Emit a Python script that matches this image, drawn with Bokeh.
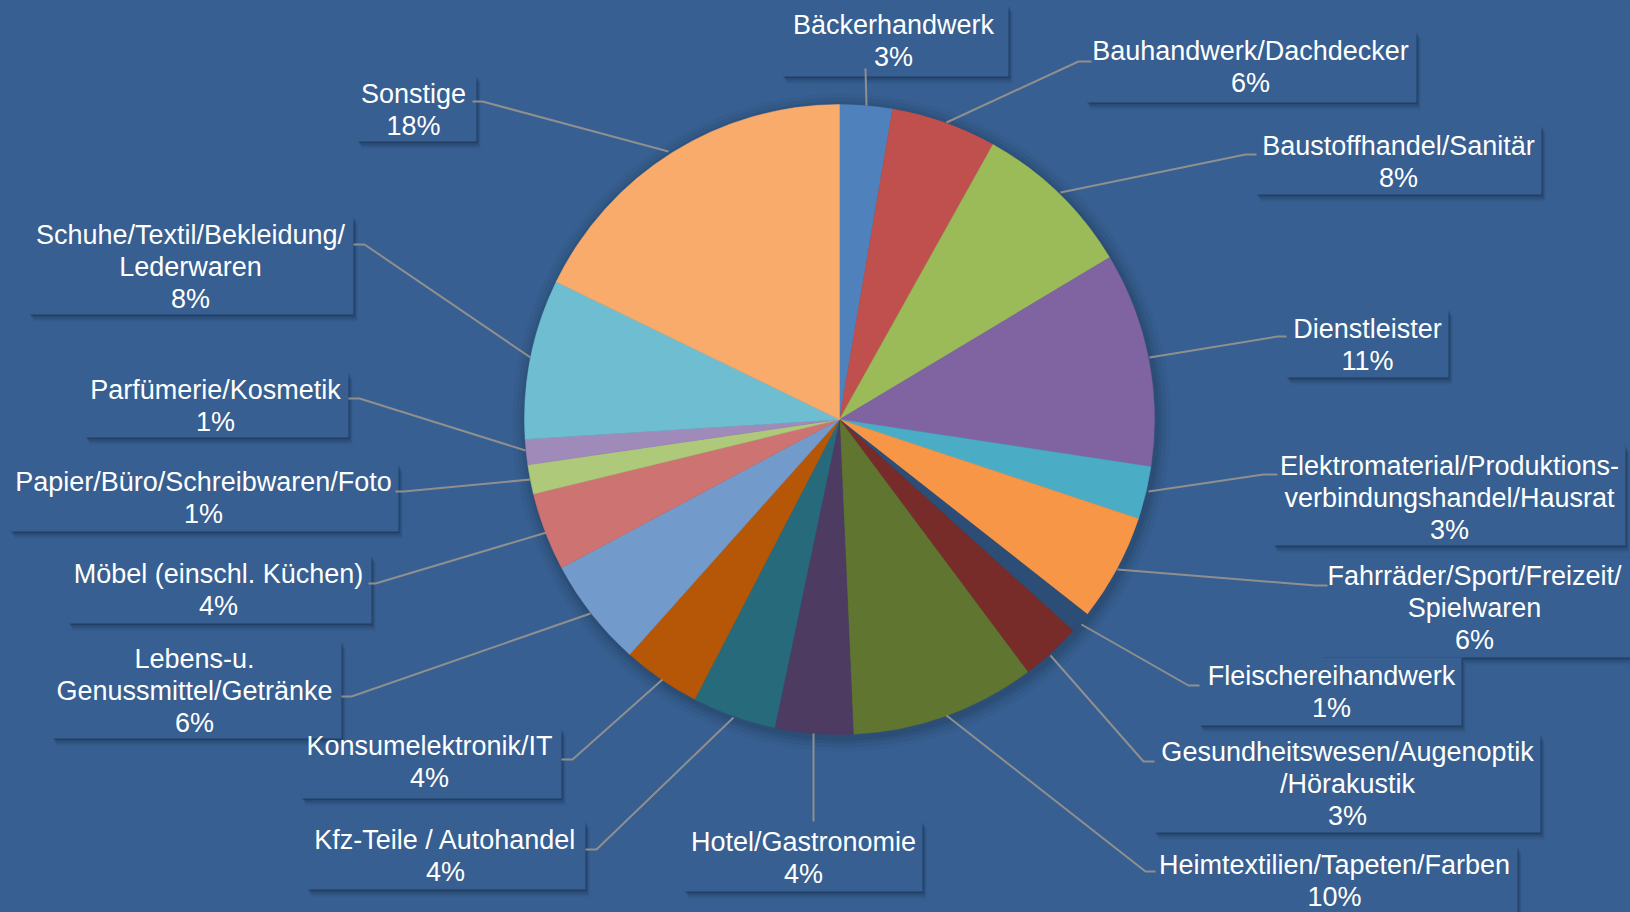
import math
from bokeh.plotting import figure
from bokeh.models import Range1d, ColumnDataSource
from bokeh.core.properties import value
from bokeh.embed import file_html
from bokeh.resources import INLINE

# ---------------- data ----------------
categories = [
    "Bäckerhandwerk",
    "Bauhandwerk/Dachdecker",
    "Baustoffhandel/Sanitär",
    "Dienstleister",
    "Elektromaterial/Produktions-\nverbindungshandel/Hausrat",
    "Fahrräder/Sport/Freizeit/\nSpielwaren",
    "Fleischereihandwerk",
    "Gesundheitswesen/Augenoptik\n/Hörakustik",
    "Heimtextilien/Tapeten/Farben",
    "Hotel/Gastronomie",
    "Kfz-Teile / Autohandel",
    "Konsumelektronik/IT",
    "Lebens-u.\nGenussmittel/Getränke",
    "Möbel (einschl. Küchen)",
    "Papier/Büro/Schreibwaren/Foto",
    "Parfümerie/Kosmetik",
    "Schuhe/Textil/Bekleidung/\nLederwaren",
    "Sonstige",
]
shares = [2.7, 5.4, 8.3, 11.0, 2.7, 5.5, 1.1, 3.1, 9.5, 4.0, 4.3, 4.0, 5.6, 4.0, 1.5, 1.3, 8.2, 17.8]
pct_labels = ["3%", "6%", "8%", "11%", "3%", "6%", "1%", "3%", "10%", "4%", "4%", "4%", "6%", "4%", "1%", "1%", "8%", "18%"]
colors = ["#4F81BD", "#C0504D", "#9BBB59", "#8064A2", "#4BACC6", "#F79646", "#2C4D75", "#772C2A",
          "#5F7530", "#4D3B62", "#276A7C", "#B65708", "#729ACA", "#CD7371", "#AFC97A", "#A08AB9",
          "#6FBDD1", "#F9AB6B"]

# ---------------- layout (screen pixels) ----------------
W, H = 1630, 912
BG = "#375F91"
CX, CY, R = 839, 419, 315
# box x0, x1, y0, y1, text center x, first line y, leader points
layout = [
    (782, 1008, 5, 76, 893, 24, [(865, 68), (866, 105)]),
    (1086, 1416, 31, 102, 1250, 50, [(1091, 61), (1078, 61), (946, 122)]),
    (1256, 1541, 125, 194, 1398, 145, [(1256, 154), (1245, 154), (1060, 192)]),
    (1286, 1448, 309, 377, 1367, 328, [(1286, 336), (1277, 336), (1149, 357)]),
    (1273, 1625, 445, 545, 1449, 465, [(1277, 474), (1263, 474), (1148, 491)]),
    (1322, 1630, 557, 657, 1474, 575, [(1327, 585), (1315, 585), (1117, 569)]),
    (1199, 1461, 657, 725, 1331, 675, [(1199, 685), (1188, 685), (1081, 624)]),
    (1154, 1540, 734, 832, 1347, 751, [(1154, 761), (1143, 761), (1050, 655)]),
    (1152, 1517, 846, 930, 1334, 864, [(1155, 871), (1145, 871), (946, 715)]),
    (684, 922, 821, 891, 803, 841, [(813, 821), (813, 733)]),
    (307, 585, 821, 889, 445, 839, [(585, 849), (596, 849), (733, 717)]),
    (301, 561, 728, 798, 429, 745, [(561, 759), (572, 759), (662, 679)]),
    (52, 341, 641, 738, 194, 658, [(341, 696), (351, 696), (590, 613)]),
    (68, 371, 555, 623, 218, 573, [(368, 583), (375, 583), (546, 532)]),
    (10, 398, 464, 531, 203, 481, [(395, 491), (403, 491), (530, 479)]),
    (85, 348, 372, 437, 215, 389, [(348, 398), (359, 398), (525, 450)]),
    (29, 353, 216, 314, 190, 234, [(353, 244), (364, 244), (530, 357)]),
    (357, 476, 75, 141, 413, 93, [(472, 101), (482, 101), (668, 151)]),
]
LINE_H = 32


def Y(sy):
    return H - sy


p = figure(width=W, height=H, output_backend="svg", toolbar_location=None,
           x_range=Range1d(0, W), y_range=Range1d(0, H), min_border=0)
p.axis.visible = False
p.grid.visible = False
p.outline_line_color = None
p.background_fill_color = BG
p.border_fill_color = BG

# pie shadow / glow
for rr, a in [(14, 0.05), (10, 0.07), (6, 0.09), (3, 0.12)]:
    p.circle(x=[CX + 2], y=[Y(CY + 3)], radius=R + rr, fill_color="#15263d",
             fill_alpha=a, line_color=None)

# wedges
total = sum(shares)
starts, ends = [], []
cum = 0.0
for v in shares:
    starts.append(math.pi / 2 - 2 * math.pi * cum / total)
    cum += v
    ends.append(math.pi / 2 - 2 * math.pi * cum / total)
src = ColumnDataSource(dict(start=starts, end=ends, color=colors))
p.wedge(x=CX, y=Y(CY), radius=R, start_angle="start", end_angle="end", direction="clock",
        fill_color="color", line_color="color", line_width=0.5, source=src)

# label boxes with shadows
for (bx0, bx1, by0, by1, tx, ty, pts) in layout:
    for off, a in [(7, 0.08), (5, 0.12), (3, 0.18), (1.5, 0.25)]:
        p.quad(left=[bx0 + off * 0.6], right=[bx1 + off * 0.6], top=[Y(by0 + off)],
               bottom=[Y(by1 + off)], fill_color="#10213a", fill_alpha=a, line_color=None)
    p.quad(left=[bx0], right=[bx1], top=[Y(by0)], bottom=[Y(by1)], fill_color=BG,
           line_color=None)

# leader lines
for (bx0, bx1, by0, by1, tx, ty, pts) in layout:
    p.line(x=[q[0] for q in pts], y=[Y(q[1]) for q in pts], line_color="#8f8f8f",
           line_width=2)

# texts
tx_l, ty_l, tt_l = [], [], []
for i, (bx0, bx1, by0, by1, tx, ty, pts) in enumerate(layout):
    lines = categories[i].split("\n") + [pct_labels[i]]
    for j, s in enumerate(lines):
        tx_l.append(tx)
        ty_l.append(Y(ty + j * LINE_H))
        tt_l.append(s)
tsrc = ColumnDataSource(dict(x=tx_l, y=ty_l, t=tt_l))
p.text(x="x", y="y", text="t", source=tsrc, text_font=value("Liberation Sans"),
       text_font_size="27px", text_color="white", text_align="center",
       text_baseline="middle")

html = file_html(p, INLINE)
html = html.replace("<head>", "<head><style>html,body{margin:0;padding:0;overflow:hidden;background:%s;}</style>" % BG, 1)
open("out.html", "w").write(html)
